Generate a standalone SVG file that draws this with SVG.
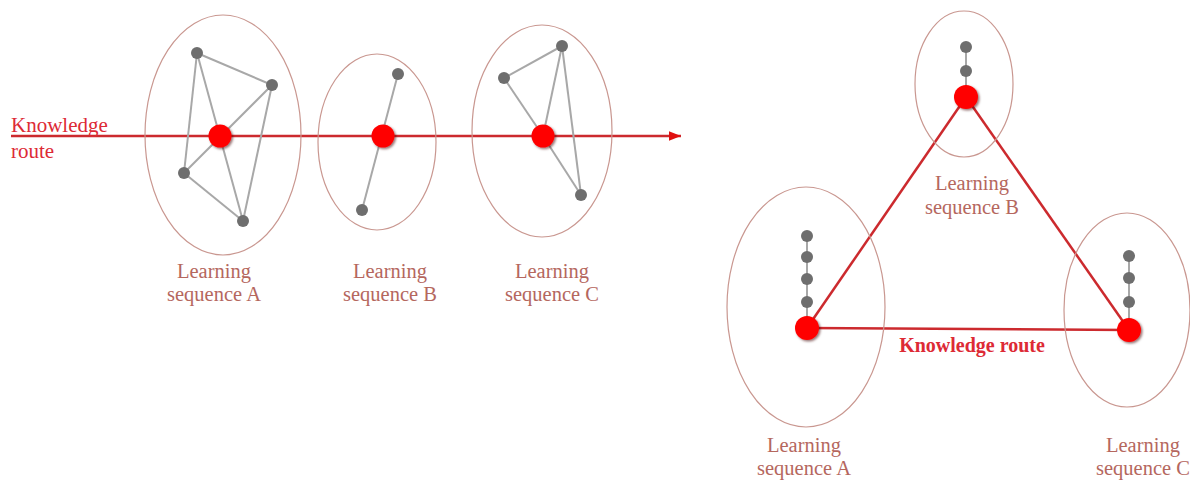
<svg xmlns="http://www.w3.org/2000/svg" width="1190" height="482" viewBox="0 0 1190 482">
<defs>
<style>
.ell{fill:none;stroke:#c99790;stroke-width:1.2}
.gl{stroke:#a8a8a8;stroke-width:2;fill:none}
.gn{fill:#6e6e6e}
.rn{fill:#ff0000;filter:url(#sh)}
.route{stroke:#cc2a2e;stroke-width:2.5;fill:none}
.lbl{font-family:"Liberation Serif",serif;font-size:20.5px;fill:#b5675e;text-anchor:middle}
.kr{font-family:"Liberation Serif",serif;font-size:21px;fill:#dd2a35}
.krb{font-family:"Liberation Serif",serif;font-size:20px;fill:#dd2a35;font-weight:bold}
</style>
<filter id="sh" x="-50%" y="-50%" width="200%" height="200%">
<feDropShadow dx="1.5" dy="1.5" stdDeviation="1.2" flood-color="#400000" flood-opacity="0.55"/>
</filter>
<marker id="arr2" viewBox="0 0 10 10" markerWidth="14" markerHeight="12" refX="10" refY="5" orient="auto" markerUnits="userSpaceOnUse">
<path d="M0,1 L10,5 L0,9 Z" fill="#e01010"/>
</marker>
</defs>

<g id="connectors">
<line class="route" x1="11" y1="136" x2="681" y2="136" marker-end="url(#arr2)"/>
<g id="edgesA">
<line class="gl" x1="197" y1="53" x2="272" y2="85"/>
<line class="gl" x1="197" y1="53" x2="184" y2="173"/>
<line class="gl" x1="197" y1="53" x2="243" y2="221"/>
<line class="gl" x1="272" y1="85" x2="184" y2="173"/>
<line class="gl" x1="272" y1="85" x2="243" y2="221"/>
<line class="gl" x1="184" y1="173" x2="243" y2="221"/>
</g>
<g id="edgesB">
<line class="gl" x1="398" y1="74" x2="362" y2="210"/>
</g>
<g id="edgesC">
<line class="gl" x1="562" y1="46" x2="504" y2="78"/>
<line class="gl" x1="504" y1="78" x2="543" y2="136"/>
<line class="gl" x1="543" y1="136" x2="562" y2="46"/>
<line class="gl" x1="562" y1="46" x2="581" y2="195"/>
<line class="gl" x1="543" y1="136" x2="581" y2="195"/>
</g>
<g id="chains">
<line class="gl" x1="966" y1="47" x2="966" y2="97"/>
<line class="gl" x1="807" y1="236" x2="807" y2="328"/>
<line class="gl" x1="1129" y1="256" x2="1129" y2="330"/>
</g>
<g id="triangle">
<line class="route" x1="807" y1="328" x2="966" y2="97"/>
<line class="route" x1="966" y1="97" x2="1129" y2="330"/>
<line class="route" x1="807" y1="328" x2="1129" y2="330"/>
</g>
</g>

<g id="left-seqA">
<ellipse class="ell" cx="223" cy="135" rx="78" ry="120"/>
<circle class="gn" cx="197" cy="53" r="6"/>
<circle class="gn" cx="272" cy="85" r="6"/>
<circle class="gn" cx="184" cy="173" r="6"/>
<circle class="gn" cx="243" cy="221" r="6"/>
<circle class="rn" cx="220" cy="136" r="11.5"/>
<text class="lbl" x="214" y="278">Learning</text>
<text class="lbl" x="214" y="301">sequence A</text>
</g>

<g id="left-seqB">
<ellipse class="ell" cx="377" cy="142" rx="59" ry="88"/>
<circle class="gn" cx="398" cy="74" r="6"/>
<circle class="gn" cx="362" cy="210" r="6"/>
<circle class="rn" cx="383" cy="136" r="11.5"/>
<text class="lbl" x="390" y="278">Learning</text>
<text class="lbl" x="390" y="301">sequence B</text>
</g>

<g id="left-seqC">
<ellipse class="ell" cx="542" cy="131" rx="70" ry="106"/>
<circle class="gn" cx="562" cy="46" r="6"/>
<circle class="gn" cx="504" cy="78" r="6"/>
<circle class="gn" cx="581" cy="195" r="6"/>
<circle class="rn" cx="543" cy="136" r="11.5"/>
<text class="lbl" x="552" y="278">Learning</text>
<text class="lbl" x="552" y="301">sequence C</text>
</g>

<g id="left-label">
<text class="kr" x="11" y="132">Knowledge</text>
<text class="kr" x="11" y="158">route</text>
</g>

<g id="right-seqB">
<ellipse class="ell" cx="964" cy="84" rx="49" ry="73"/>
<circle class="gn" cx="966" cy="47" r="6"/>
<circle class="gn" cx="966" cy="71" r="6"/>
<circle class="rn" cx="966" cy="97" r="12"/>
<text class="lbl" x="972" y="190">Learning</text>
<text class="lbl" x="972" y="214">sequence B</text>
</g>

<g id="right-seqA">
<ellipse class="ell" cx="806" cy="307" rx="79" ry="120"/>
<circle class="gn" cx="807" cy="236" r="6"/>
<circle class="gn" cx="807" cy="257" r="6"/>
<circle class="gn" cx="807" cy="279" r="6"/>
<circle class="gn" cx="807" cy="302" r="6"/>
<circle class="rn" cx="807" cy="328" r="12"/>
<text class="lbl" x="804" y="452">Learning</text>
<text class="lbl" x="804" y="475">sequence A</text>
</g>

<g id="right-seqC">
<ellipse class="ell" cx="1127" cy="310" rx="63" ry="97"/>
<circle class="gn" cx="1129" cy="256" r="6"/>
<circle class="gn" cx="1129" cy="278" r="6"/>
<circle class="gn" cx="1129" cy="302" r="6"/>
<circle class="rn" cx="1129" cy="330" r="12"/>
<text class="lbl" x="1143" y="452">Learning</text>
<text class="lbl" x="1143" y="475">sequence C</text>
</g>

<g id="right-label">
<text class="krb" x="972" y="352" text-anchor="middle">Knowledge route</text>
</g>
</svg>
